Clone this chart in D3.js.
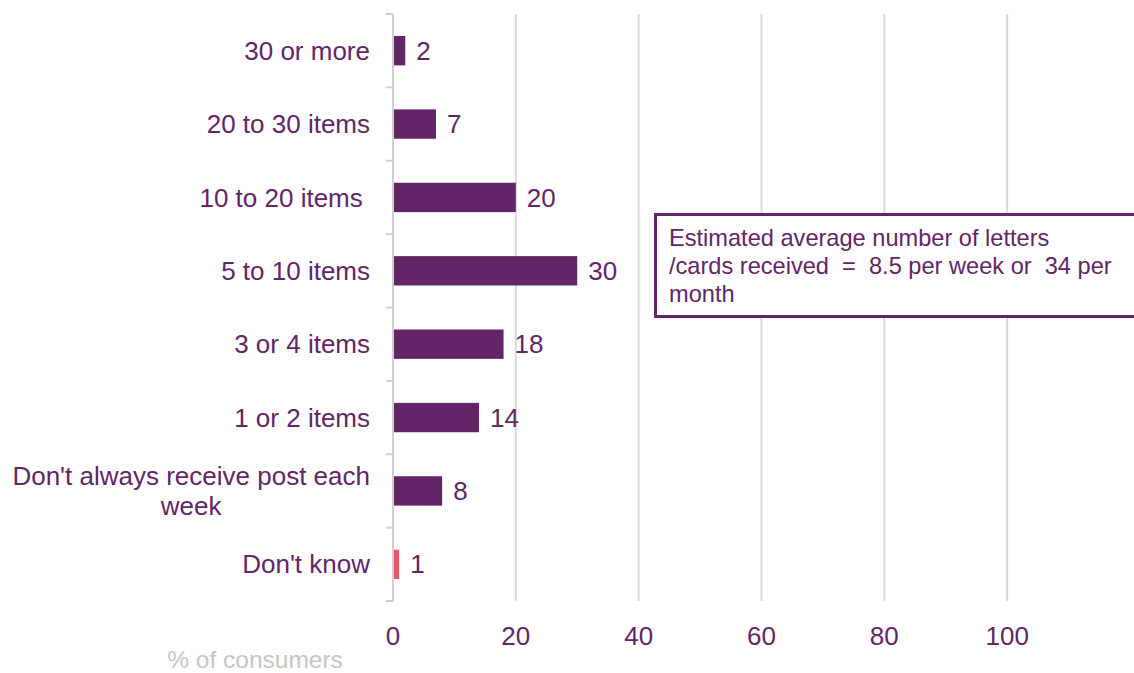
<!DOCTYPE html>
<html>
<head>
<meta charset="utf-8">
<script src="https://cdn.jsdelivr.net/npm/d3@7"></script>
<style>
  html, body { margin: 0; padding: 0; background: #fff; }
  svg { display: block; font-family: "Liberation Sans", Arial, sans-serif; }
  text { white-space: pre; }
</style>
</head>
<body>
<svg id="chart" width="1134" height="673"></svg>
<script>
const categories = ["30 or more", "20 to 30 items", "10 to 20 items ", "5 to 10 items", "3 or 4 items", "1 or 2 items", "Don't always receive post each\nweek", "Don't know"];
const values = [2, 7, 20, 30, 18, 14, 8, 1];
const barColors = ["#622567", "#622567", "#622567", "#622567", "#622567", "#622567", "#622567", "#E45A6A"];
const xTicks = [0, 20, 40, 60, 80, 100];
const axisTitle = "% of consumers";
const noteLines = ["Estimated average number of letters", "/cards received  =  8.5 per week or  34 per", "month"];

const purple = "#622567";
const svg = d3.select("#chart");
const x = d3.scaleLinear().domain([0, 120]).range([393, 1130]);
const y = d3.scaleBand().domain(categories).range([14, 601]).paddingInner(0.6).paddingOuter(0.3);

// gridlines
svg.append("g").selectAll("line").data(xTicks.filter(d => d > 0)).join("line")
  .attr("x1", d => x(d)).attr("x2", d => x(d))
  .attr("y1", 14).attr("y2", 601)
  .attr("stroke", "#d9d9d9").attr("stroke-width", 2);

// bars
svg.append("g").selectAll("rect").data(values).join("rect")
  .attr("x", x(0))
  .attr("y", (d, i) => y(categories[i]))
  .attr("width", d => x(d) - x(0))
  .attr("height", y.bandwidth())
  .attr("fill", (d, i) => barColors[i]);

// y axis line and ticks
const yAxisG = svg.append("g");
yAxisG.append("line").attr("x1", x(0)).attr("x2", x(0)).attr("y1", 14).attr("y2", 601)
  .attr("stroke", "#d0d0d0").attr("stroke-width", 2);
const bounds = d3.range(categories.length + 1).map(i => 14 + i * y.step());
yAxisG.selectAll("line.tk").data(bounds).join("line").attr("class", "tk")
  .attr("x1", x(0) - 7).attr("x2", x(0)).attr("y1", d => d).attr("y2", d => d)
  .attr("stroke", "#d0d0d0").attr("stroke-width", 2);

// category labels
const fs = 26;
const lblG = svg.append("g").attr("fill", purple).attr("font-size", fs);
categories.forEach((c, i) => {
  const lines = c.split("\n");
  const cy = y(c) + y.bandwidth() / 2;
  const lh = 30;
  if (lines.length === 1) {
    lblG.append("text").attr("x", 370).attr("y", cy).attr("dy", "0.35em")
      .attr("text-anchor", "end").text(c);
  } else {
    const t = lblG.append("text").attr("x", 0).attr("y", 0).attr("text-anchor", "middle");
    const tmp = lblG.append("text").text(lines[0]);
    const w = tmp.node().getComputedTextLength();
    tmp.remove();
    const cx = 370 - w / 2;
    lines.forEach((ln, j) => {
      t.append("tspan").attr("x", cx).attr("y", cy + (j - (lines.length - 1) / 2) * lh)
        .attr("dy", "0.35em").text(ln);
    });
  }
});

// value labels
svg.append("g").attr("fill", purple).attr("font-size", fs)
  .selectAll("text").data(values).join("text")
  .attr("x", d => x(d) + 11)
  .attr("y", (d, i) => y(categories[i]) + y.bandwidth() / 2)
  .attr("dy", "0.35em")
  .text(d => d);

// x tick labels
svg.append("g").attr("fill", purple).attr("font-size", fs)
  .selectAll("text").data(xTicks).join("text")
  .attr("x", d => x(d)).attr("y", 645).attr("text-anchor", "middle")
  .text(d => d);

// axis title
svg.append("text").attr("x", 255).attr("y", 668).attr("text-anchor", "middle")
  .attr("fill", "#c6c6c6").attr("font-size", 24.5).text(axisTitle);

// annotation box
const note = svg.append("g");
note.append("rect").attr("x", 655.5).attr("y", 214.5).attr("width", 500).attr("height", 102)
  .attr("fill", "#fff").attr("stroke", purple).attr("stroke-width", 3);
note.append("g").attr("fill", purple).attr("font-size", 23.6)
  .selectAll("text").data(noteLines).join("text")
  .attr("x", 669).attr("y", (d, i) => 246 + i * 28).text(d => d);
</script>
</body>
</html>
